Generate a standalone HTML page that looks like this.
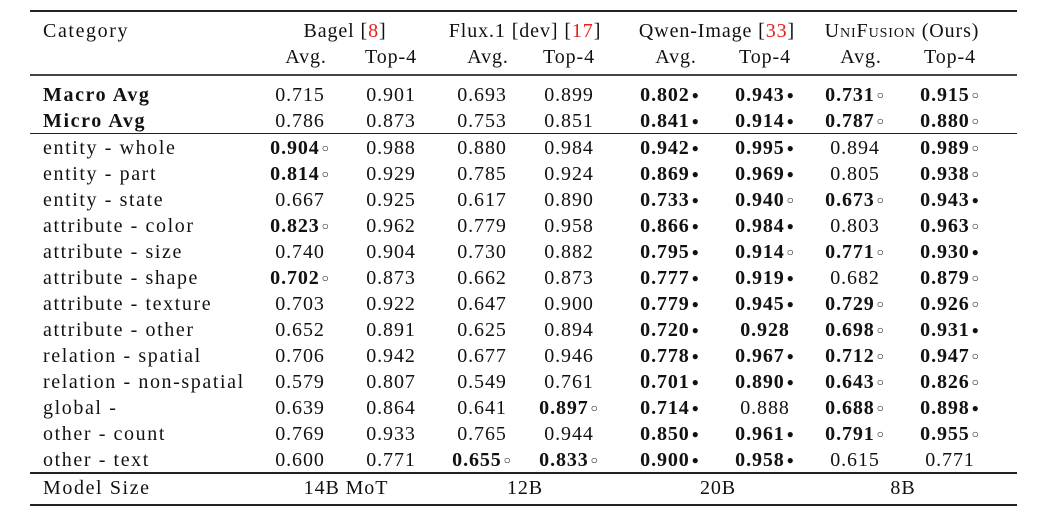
<!DOCTYPE html>
<html><head><meta charset="utf-8"><style>
body{margin:0;width:1051px;height:518px;background:#fff;position:relative;overflow:hidden;font-family:"Liberation Serif",serif;font-size:20px;color:#111}
.r{position:absolute;left:30px;width:987px;background:#222}
.t{position:absolute;white-space:nowrap;line-height:1;letter-spacing:0.9px}
.l{letter-spacing:1.6px}
.c{transform:translateX(-50%)}
b{font-weight:bold}
.red{color:#e8201c}
.sc{font-variant:small-caps}
.m{font-size:12px;font-weight:normal;position:relative;top:-2px;margin-left:2px}
</style></head><body>
<div class="r" style="top:10px;height:2px"></div>
<div class="r" style="top:74px;height:1.5px;background:#444"></div>
<div class="r" style="top:133px;height:1px"></div>
<div class="r" style="top:472px;height:1.5px"></div>
<div class="r" style="top:504px;height:2px"></div>
<div id="g"></div>
<script>
const cx=[300,391,482,569,670,765,855,950];
let h='';
function t(x,y,s,c=true){h+=`<div class="t${c?' c':' l'}" style="left:${x}px;top:${y-9}px">${s}</div>`}
t(43,30,'Category',false);
t(345,30,'Bagel [<span class="red">8</span>]');
t(525,30,'Flux.1 [dev] [<span class="red">17</span>]');
t(717,30,'Qwen-Image [<span class="red">33</span>]');
t(902,30,'<span class="sc">UniFusion</span> (Ours)');
for(let i=0;i<8;i++)t(cx[i]+(i%2?0:6),56,i%2?'Top-4':'Avg.');
const W='<span class="m">●</span>',O='<span class="m">○</span>';
function f(v){if(v.endsWith('*'))return '<b>'+v.slice(0,-1)+'</b>'+W;if(v.endsWith('o'))return '<b>'+v.slice(0,-1)+'</b>'+O;if(v.endsWith('!'))return '<b>'+v.slice(0,-1)+'</b>';return v}
const rows=[
['<b>Macro Avg</b>','0.715 0.901 0.693 0.899 0.802* 0.943* 0.731o 0.915o',94],
['<b>Micro Avg</b>','0.786 0.873 0.753 0.851 0.841* 0.914* 0.787o 0.880o',120],
['entity - whole','0.904o 0.988 0.880 0.984 0.942* 0.995* 0.894 0.989o'],
['entity - part','0.814o 0.929 0.785 0.924 0.869* 0.969* 0.805 0.938o'],
['entity - state','0.667 0.925 0.617 0.890 0.733* 0.940o 0.673o 0.943*'],
['attribute - color','0.823o 0.962 0.779 0.958 0.866* 0.984* 0.803 0.963o'],
['attribute - size','0.740 0.904 0.730 0.882 0.795* 0.914o 0.771o 0.930*'],
['attribute - shape','0.702o 0.873 0.662 0.873 0.777* 0.919* 0.682 0.879o'],
['attribute - texture','0.703 0.922 0.647 0.900 0.779* 0.945* 0.729o 0.926o'],
['attribute - other','0.652 0.891 0.625 0.894 0.720* 0.928! 0.698o 0.931*'],
['relation - spatial','0.706 0.942 0.677 0.946 0.778* 0.967* 0.712o 0.947o'],
['relation - non-spatial','0.579 0.807 0.549 0.761 0.701* 0.890* 0.643o 0.826o'],
['global -','0.639 0.864 0.641 0.897o 0.714* 0.888 0.688o 0.898*'],
['other - count','0.769 0.933 0.765 0.944 0.850* 0.961* 0.791o 0.955o'],
['other - text','0.600 0.771 0.655o 0.833o 0.900* 0.958* 0.615 0.771']];
rows.forEach((r,i)=>{const y=r[2]||147+(i-2)*26;t(43,y,r[0],false);r[1].split(' ').forEach((v,j)=>t(cx[j],y,f(v)))});
t(43,487,'Model Size',false);t(346,487,'14B MoT');t(525,487,'12B');t(718,487,'20B');t(903,487,'8B');
document.getElementById('g').innerHTML=h;
</script>
</body></html>
